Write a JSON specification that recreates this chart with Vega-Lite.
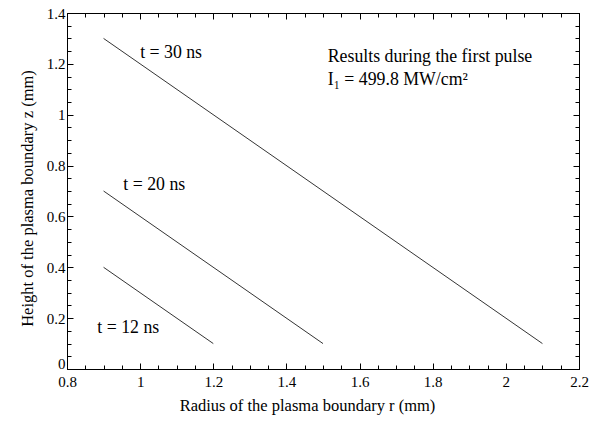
{
  "$schema": "https://vega.github.io/schema/vega-lite/v6.json",
  "width": 512,
  "height": 356,
  "autosize": {"type": "none"},
  "padding": {"left": 67, "top": 13, "right": 16, "bottom": 53},
  "background": "white",
  "config": {
    "view": {"stroke": "black", "strokeWidth": 1},
    "font": "Liberation Serif",
    "axis": {
      "domainColor": "black",
      "tickColor": "black",
      "labelColor": "black",
      "titleColor": "black",
      "labelFont": "Liberation Serif",
      "titleFont": "Liberation Serif",
      "labelFontSize": 15,
      "titleFontSize": 16.5,
      "titleFontWeight": "normal",
      "labelFlush": false,
      "grid": false
    }
  },
  "datasets": {
    "lines": [
      {"series": "t = 30 ns", "r": 0.9, "z": 1.3},
      {"series": "t = 30 ns", "r": 2.1, "z": 0.1},
      {"series": "t = 20 ns", "r": 0.9, "z": 0.7},
      {"series": "t = 20 ns", "r": 1.5, "z": 0.1},
      {"series": "t = 12 ns", "r": 0.9, "z": 0.4},
      {"series": "t = 12 ns", "r": 1.2, "z": 0.1}
    ],
    "labels": [
      {"label": "t = 30 ns", "r": 1.0, "z": 1.222},
      {"label": "t = 20 ns", "r": 0.954, "z": 0.704},
      {"label": "t = 12 ns", "r": 0.883, "z": 0.142},
      {"label": "Results during the first pulse", "r": 1.513, "z": 1.208},
      {"label": "I₁ = 499.8 MW/cm²", "r": 1.513, "z": 1.117}
    ]
  },
  "layer": [
    {
      "data": {"name": "lines"},
      "mark": {"type": "line", "color": "black", "strokeWidth": 0.8},
      "encoding": {
        "x": {
          "field": "r", "type": "quantitative",
          "scale": {"domain": [0.8, 2.2], "nice": false, "zero": false},
          "axis": {
            "orient": "bottom",
            "title": "Radius of the plasma boundary r (mm)",
            "values": [0.8,0.85,0.9,0.95,1,1.05,1.1,1.15,1.2,1.25,1.3,1.35,1.4,1.45,1.5,1.55,1.6,1.65,1.7,1.75,1.8,1.85,1.9,1.95,2,2.05,2.1,2.15,2.2],
            "format": "~g",
            "labelExpr": "abs(datum.value*5 - round(datum.value*5)) < 0.01 ? datum.label : ''",
            "tickSize": {"condition": {"test": "abs(datum.value*5 - round(datum.value*5)) < 0.01", "value": -6}, "value": -4},
            "labelPadding": 11,
            "labelOverlap": false,
            "titlePadding": 6,
            "titleX": 240
          }
        },
        "y": {
          "field": "z", "type": "quantitative",
          "scale": {"domain": [0, 1.4], "nice": false},
          "axis": {
            "orient": "left",
            "title": "Height of the plasma boundary z (mm)",
            "values": [0,0.05,0.1,0.15,0.2,0.25,0.3,0.35,0.4,0.45,0.5,0.55,0.6,0.65,0.7,0.75,0.8,0.85,0.9,0.95,1,1.05,1.1,1.15,1.2,1.25,1.3,1.35,1.4],
            "format": "~g",
            "labelExpr": "abs(datum.value*5 - round(datum.value*5)) < 0.01 ? datum.label : ''",
            "tickSize": {"condition": {"test": "abs(datum.value*5 - round(datum.value*5)) < 0.01", "value": -6}, "value": -4},
            "labelOffset": {"condition": {"test": "datum.value == 0", "value": -6}, "value": 0},
            "labelPadding": 8,
            "labelOverlap": false,
            "titlePadding": 11,
            "titleY": 185
          }
        },
        "detail": {"field": "series", "type": "nominal"}
      }
    },
    {
      "data": {"name": "labels"},
      "mark": {"type": "text", "align": "left", "baseline": "alphabetic", "font": "Liberation Serif", "fontSize": 17.8, "color": "black"},
      "encoding": {
        "x": {
          "field": "r", "type": "quantitative",
          "scale": {"domain": [0.8, 2.2], "nice": false, "zero": false},
          "axis": {
            "orient": "top",
            "title": null,
            "labels": false,
            "values": [0.8,0.85,0.9,0.95,1,1.05,1.1,1.15,1.2,1.25,1.3,1.35,1.4,1.45,1.5,1.55,1.6,1.65,1.7,1.75,1.8,1.85,1.9,1.95,2,2.05,2.1,2.15,2.2],
            "tickSize": {"condition": {"test": "abs(datum.value*5 - round(datum.value*5)) < 0.01", "value": -6}, "value": -4}
          }
        },
        "y": {
          "field": "z", "type": "quantitative",
          "scale": {"domain": [0, 1.4], "nice": false},
          "axis": {
            "orient": "right",
            "title": null,
            "labels": false,
            "values": [0,0.05,0.1,0.15,0.2,0.25,0.3,0.35,0.4,0.45,0.5,0.55,0.6,0.65,0.7,0.75,0.8,0.85,0.9,0.95,1,1.05,1.1,1.15,1.2,1.25,1.3,1.35,1.4],
            "tickSize": {"condition": {"test": "abs(datum.value*5 - round(datum.value*5)) < 0.01", "value": -6}, "value": -4}
          }
        },
        "text": {"field": "label", "type": "nominal"}
      }
    }
  ],
  "resolve": {"axis": {"x": "independent", "y": "independent"}}
}
